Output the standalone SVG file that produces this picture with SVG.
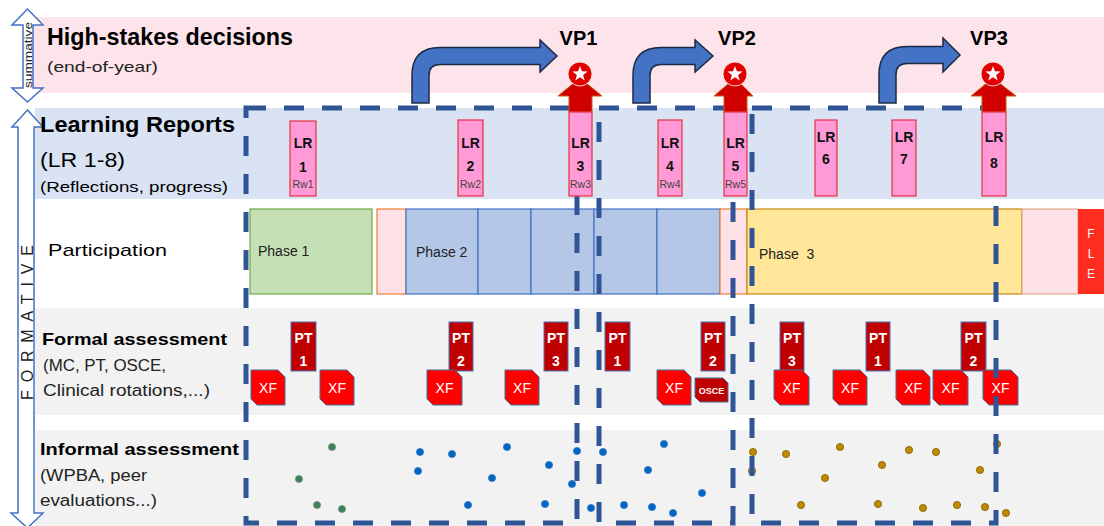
<svg xmlns="http://www.w3.org/2000/svg" width="1104" height="526" viewBox="0 0 1104 526">
<defs>
<style>
text{font-family:"Liberation Sans",Arial,sans-serif}
.b{font-weight:bold}
.lr{fill:#FF9AD6;stroke:#E8303F;stroke-width:1.2}
.lrt{font-size:14px;font-weight:bold;text-anchor:middle;fill:#111}
.rw{font-size:10.5px;fill:#444;text-anchor:middle}
.pt{fill:#C00000;stroke:#4A72B8;stroke-width:1}
.ptt{font-size:14px;font-weight:bold;fill:#fff;text-anchor:middle}
.xf{fill:#FF0000;stroke:#41719C;stroke-width:1}
.xft{font-size:14px;fill:#fff;text-anchor:middle}
.wt{fill:#fff}
.dash{fill:none;stroke:#2F5597;stroke-width:5;stroke-dasharray:20 18}
.barrow{fill:#4472C4;stroke:#1B2A45;stroke-width:1.5}
.rarrow{fill:#D00000;stroke:#C55A11;stroke-width:1}
.g{fill:#417F5B;stroke:#6E9A80;stroke-width:0.8}
.bl{fill:#0066C6;stroke:#3A78C0;stroke-width:0.8}
.y{fill:#BF8A00;stroke:#7F6000;stroke-width:0.8}
.outl{fill:#fff;stroke:#4472C4;stroke-width:1.5}
.ph{font-size:14px;fill:#222}
.sub{fill:#222}
</style>
<g id="star"><circle r="12" fill="#E00000" stroke="#fff" stroke-width="0.8"/><polygon fill="#fff" points="0,-8 1.94,-2.67 7.61,-2.47 3.14,1.02 4.7,6.47 0,3.3 -4.7,6.47 -3.14,1.02 -7.61,-2.47 -1.94,-2.67"/></g>
</defs>
<rect width="1104" height="526" fill="#fff"/>
<g id="bands">
<rect x="33" y="17" width="1071" height="76" fill="#FDE3EA"/>
<rect x="35" y="108" width="1069" height="91" fill="#DAE3F3"/>
<rect x="35" y="308" width="1069" height="107" fill="#F2F2F2"/>
<rect x="35" y="430" width="1069" height="96" fill="#F2F2F2"/>
</g>
<g id="summative-arrow">
<path class="outl" d="M27.5,9 L43,25 L33,25 L33,88 L43,88 L27.5,102 L12,88 L23,88 L23,25 L12,25 Z"/>
<text class="sub" transform="translate(32,55) rotate(-90)" font-size="11.5" text-anchor="middle" textLength="66" lengthAdjust="spacingAndGlyphs">summative</text>
</g>
<g id="formative-arrow">
<path class="outl" d="M27.5,110 L43,127 L34,127 L34,513 L43,513 L27.5,528 L11,513 L18,513 L18,127 L12,127 Z"/>
<text class="sub" transform="translate(33,322.5) rotate(-90)" font-size="16" text-anchor="middle" textLength="155" lengthAdjust="spacing">FORMATIVE</text>
</g>
<g id="labels">
<text x="47" y="45" class="b" font-size="23" textLength="246" lengthAdjust="spacingAndGlyphs">High-stakes decisions</text>
<text x="47" y="72" class="sub" font-size="15" textLength="111" lengthAdjust="spacingAndGlyphs">(end-of-year)</text>
<text x="40" y="132" class="b" font-size="22" textLength="195" lengthAdjust="spacingAndGlyphs">Learning Reports</text>
<text x="40" y="167" font-size="20" textLength="85" lengthAdjust="spacingAndGlyphs">(LR 1-8)</text>
<text x="40" y="192" font-size="15" textLength="188" lengthAdjust="spacingAndGlyphs">(Reflections, progress)</text>
<text x="48" y="256" font-size="17" textLength="119" lengthAdjust="spacingAndGlyphs">Participation</text>
<text x="42" y="345" class="b" font-size="17" textLength="185" lengthAdjust="spacingAndGlyphs">Formal assessment</text>
<text x="43" y="371" class="sub" font-size="16" textLength="123" lengthAdjust="spacingAndGlyphs">(MC, PT, OSCE,</text>
<text x="43" y="396" class="sub" font-size="16" textLength="167" lengthAdjust="spacingAndGlyphs">Clinical rotations,...)</text>
<text x="40" y="455" class="b" font-size="17" textLength="199" lengthAdjust="spacingAndGlyphs">Informal assessment</text>
<text x="40" y="481" class="sub" font-size="16" textLength="107" lengthAdjust="spacingAndGlyphs">(WPBA, peer</text>
<text x="40" y="506" class="sub" font-size="16" textLength="117" lengthAdjust="spacingAndGlyphs">evaluations...)</text>
</g>
<g id="participation">
<rect x="250" y="209" width="122" height="85" fill="#C5E0B4" stroke="#6FA84A" stroke-width="1.2"/>
<text x="258" y="256" class="ph">Phase 1</text>
<rect x="377" y="209" width="29" height="85" fill="#FFE1E8" stroke="#ED7D31" stroke-width="1.2"/>
<rect x="406" y="209" width="72" height="85" fill="#B4C7E7" stroke="#4472C4" stroke-width="1.2"/>
<rect x="478" y="209" width="53" height="85" fill="#B4C7E7" stroke="#4472C4" stroke-width="1.2"/>
<rect x="531" y="209" width="63" height="85" fill="#B4C7E7" stroke="#4472C4" stroke-width="1.2"/>
<rect x="594" y="209" width="63" height="85" fill="#B4C7E7" stroke="#4472C4" stroke-width="1.2"/>
<rect x="657" y="209" width="63" height="85" fill="#B4C7E7" stroke="#4472C4" stroke-width="1.2"/>
<text x="416" y="257" class="ph">Phase 2</text>
<rect x="720" y="209" width="27" height="85" fill="#FFE1E8" stroke="#ED7D31" stroke-width="1.2"/>
<rect x="747" y="209" width="275" height="85" fill="#FFE699" stroke="#C58A10" stroke-width="1.2"/>
<text x="759" y="259" class="ph" xml:space="preserve">Phase  3</text>
<rect x="1022" y="209" width="56" height="85" fill="#FFE1E8" stroke="#D9A07A" stroke-width="1"/>
<rect x="1078" y="209" width="26" height="85" fill="#FF2D20"/>
<text x="1091" y="238" font-size="12" class="wt" text-anchor="middle">F</text>
<text x="1091" y="258" font-size="12" class="wt" text-anchor="middle">L</text>
<text x="1091" y="278" font-size="12" class="wt" text-anchor="middle">E</text>
</g>
<g id="formal">
<g id="pt1a"><rect class="pt" x="291" y="322" width="25" height="49"/><text class="ptt" x="303.5" y="343">PT</text><text class="ptt" x="303.5" y="366">1</text></g>
<g id="pt2a"><rect class="pt" x="449" y="322" width="24" height="49"/><text class="ptt" x="461" y="343">PT</text><text class="ptt" x="461" y="366">2</text></g>
<g id="pt3a"><rect class="pt" x="544" y="322" width="24" height="49"/><text class="ptt" x="556" y="343">PT</text><text class="ptt" x="556" y="366">3</text></g>
<g id="pt1b"><rect class="pt" x="605" y="322" width="25" height="49"/><text class="ptt" x="617.5" y="343">PT</text><text class="ptt" x="617.5" y="366">1</text></g>
<g id="pt2b"><rect class="pt" x="701" y="322" width="24" height="49"/><text class="ptt" x="713" y="343">PT</text><text class="ptt" x="713" y="366">2</text></g>
<g id="pt3b"><rect class="pt" x="780" y="322" width="24" height="49"/><text class="ptt" x="792" y="343">PT</text><text class="ptt" x="792" y="366">3</text></g>
<g id="pt1c"><rect class="pt" x="866" y="322" width="24" height="49"/><text class="ptt" x="878" y="343">PT</text><text class="ptt" x="878" y="366">1</text></g>
<g id="pt2c"><rect class="pt" x="961" y="322" width="25" height="49"/><text class="ptt" x="973.5" y="343">PT</text><text class="ptt" x="973.5" y="366">2</text></g>
<g id="xf1"><path class="xf" d="M251,370 H278 L285,377 V405 H257 L251,399 Z"/><text class="xft" x="268" y="393">XF</text></g>
<g id="xf2"><path class="xf" d="M320,370 H347 L354,377 V405 H326 L320,399 Z"/><text class="xft" x="337" y="393">XF</text></g>
<g id="xf3"><path class="xf" d="M427,370 H455 L462,377 V405 H433 L427,399 Z"/><text class="xft" x="444.5" y="393">XF</text></g>
<g id="xf4"><path class="xf" d="M505,370 H532 L539,377 V405 H511 L505,399 Z"/><text class="xft" x="522" y="393">XF</text></g>
<g id="xf5"><path class="xf" d="M657,370 H684 L691,377 V405 H663 L657,399 Z"/><text class="xft" x="674" y="393">XF</text></g>
<g id="osce"><path d="M695,378 H723 L728,383 V402 H700 L695,397 Z" fill="#C00000" stroke="#41719C" stroke-width="1"/><text x="711.5" y="394" font-size="9" font-weight="bold" class="wt" text-anchor="middle">OSCE</text></g>
<g id="xf6"><path class="xf" d="M774,370 H802 L809,377 V405 H780 L774,399 Z"/><text class="xft" x="791.5" y="393">XF</text></g>
<g id="xf7"><path class="xf" d="M833,370 H860 L867,377 V405 H839 L833,399 Z"/><text class="xft" x="850" y="393">XF</text></g>
<g id="xf8"><path class="xf" d="M896,370 H923 L930,377 V405 H902 L896,399 Z"/><text class="xft" x="913" y="393">XF</text></g>
<g id="xf9"><path class="xf" d="M933,370 H961 L968,377 V405 H939 L933,399 Z"/><text class="xft" x="950.5" y="393">XF</text></g>
<g id="xf10"><path class="xf" d="M983,370 H1011 L1018,377 V405 H989 L983,399 Z"/><text class="xft" x="1000.5" y="393">XF</text></g>
</g>
<g id="informal">
<circle class="g" cx="332" cy="447" r="3.6"/><circle class="g" cx="299" cy="479" r="3.6"/><circle class="g" cx="317" cy="505" r="3.6"/><circle class="g" cx="342" cy="509" r="3.6"/>
<circle class="bl" cx="420" cy="452" r="3.6"/><circle class="bl" cx="418" cy="471" r="3.6"/><circle class="bl" cx="452" cy="454" r="3.6"/><circle class="bl" cx="507" cy="447" r="3.6"/><circle class="bl" cx="549" cy="465" r="3.6"/><circle class="bl" cx="492" cy="478" r="3.6"/><circle class="bl" cx="468" cy="505" r="3.6"/><circle class="bl" cx="545" cy="504" r="3.6"/><circle class="bl" cx="577" cy="451" r="3.6"/><circle class="bl" cx="572" cy="484" r="3.6"/><circle class="bl" cx="591" cy="508" r="3.6"/><circle class="bl" cx="603" cy="452" r="3.6"/><circle class="bl" cx="624" cy="505" r="3.6"/><circle class="bl" cx="648" cy="470" r="3.6"/><circle class="bl" cx="664" cy="444" r="3.6"/><circle class="bl" cx="652" cy="507" r="3.6"/><circle class="bl" cx="673" cy="513" r="3.6"/><circle class="bl" cx="702" cy="493" r="3.6"/>
<circle class="y" cx="753" cy="452" r="3.6"/><circle class="y" cx="752" cy="471" r="3.6"/><circle class="y" cx="786" cy="454" r="3.6"/><circle class="y" cx="840" cy="447" r="3.6"/><circle class="y" cx="882" cy="465" r="3.6"/><circle class="y" cx="825" cy="478" r="3.6"/><circle class="y" cx="801" cy="505" r="3.6"/><circle class="y" cx="878" cy="504" r="3.6"/><circle class="y" cx="909" cy="450" r="3.6"/><circle class="y" cx="936" cy="452" r="3.6"/><circle class="y" cx="980" cy="470" r="3.6"/><circle class="y" cx="923" cy="508" r="3.6"/><circle class="y" cx="957" cy="505" r="3.6"/><circle class="y" cx="985" cy="507" r="3.6"/><circle class="y" cx="997" cy="444" r="3.6"/><circle class="y" cx="1006" cy="513" r="3.6"/>
</g>
<g id="connectors">
<rect class="dash" x="246" y="108" width="331" height="415"/>
<rect class="dash" x="599" y="108" width="134" height="415"/>
<rect class="dash" x="752" y="108" width="244" height="415"/>
<path class="barrow" d="M412,103 V75.5 Q412,47.5 440,47.5 H540 V40 L557,56 L540,72 V64.5 H440 Q429,64.5 429,75.5 V103 Z"/>
<path class="barrow" d="M633,103 V75.5 Q633,47.5 661,47.5 H695 V40 L713,56 L695,72 V64.5 H661 Q650,64.5 650,75.5 V103 Z"/>
<path class="barrow" d="M879,103 V74.5 Q879,46.5 907,46.5 H943 V38 L960,55 L943,72 V63.5 H907 Q896,63.5 896,74.5 V103 Z"/>
<path class="rarrow" d="M569,112 V96 H558 L580,78 L602,96 H592 V112 Z"/>
<path class="rarrow" d="M724,112 V96 H714 L735,78 L753,96 H747 V112 Z"/>
<path class="rarrow" d="M982,112 V96 H971 L993,78 L1016,96 H1006 V112 Z"/>
</g>
<g id="vp1"><use href="#star" x="580" y="74"/><text x="578.5" y="45" class="b" font-size="20" text-anchor="middle">VP1</text></g>
<g id="vp2"><use href="#star" x="735" y="74"/><text x="737" y="45" class="b" font-size="20" text-anchor="middle">VP2</text></g>
<g id="vp3"><use href="#star" x="993" y="74"/><text x="989" y="45" class="b" font-size="20" text-anchor="middle">VP3</text></g>
<g id="lr1"><rect class="lr" x="290" y="121" width="26" height="75"/><text class="lrt" x="303" y="148">LR</text><text class="lrt" x="303" y="172">1</text><text class="rw" x="303" y="188">Rw1</text></g>
<g id="lr2"><rect class="lr" x="458" y="120" width="25" height="76"/><text class="lrt" x="470.5" y="148">LR</text><text class="lrt" x="470.5" y="171">2</text><text class="rw" x="470.5" y="188">Rw2</text></g>
<g id="lr3"><rect class="lr" x="569" y="112" width="23" height="84"/><text class="lrt" x="580.5" y="148">LR</text><text class="lrt" x="580.5" y="171">3</text><text class="rw" x="580.5" y="188">Rw3</text></g>
<g id="lr4"><rect class="lr" x="658" y="120" width="24" height="76"/><text class="lrt" x="670" y="148">LR</text><text class="lrt" x="670" y="171">4</text><text class="rw" x="670" y="188">Rw4</text></g>
<g id="lr5"><rect class="lr" x="724" y="112" width="23" height="84"/><text class="lrt" x="735.5" y="148">LR</text><text class="lrt" x="735.5" y="171">5</text><text class="rw" x="735.5" y="188">Rw5</text></g>
<g id="lr6"><rect class="lr" x="815" y="120" width="22" height="76"/><text class="lrt" x="826" y="142">LR</text><text class="lrt" x="826" y="164">6</text></g>
<g id="lr7"><rect class="lr" x="892" y="120" width="24" height="76"/><text class="lrt" x="904" y="142">LR</text><text class="lrt" x="904" y="164">7</text></g>
<g id="lr8"><rect class="lr" x="982" y="112" width="24" height="84"/><text class="lrt" x="994" y="142">LR</text><text class="lrt" x="994" y="168">8</text></g>
</svg>
